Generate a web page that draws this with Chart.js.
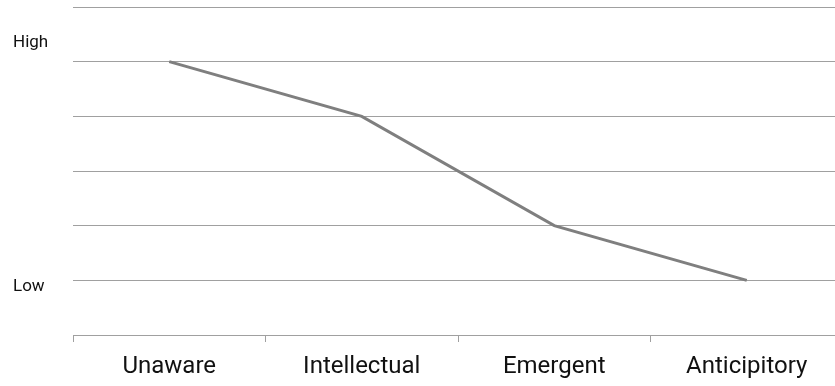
<!DOCTYPE html>
<html>
<head>
<meta charset="utf-8">
<script src="https://cdn.jsdelivr.net/npm/chart.js@4/dist/chart.umd.min.js"></script>
<style>
  html, body { margin: 0; padding: 0; background: #fff; overflow: hidden; }
</style>
</head>
<body>
<canvas id="awareChart" width="850" height="386"></canvas>
<script>
// categorias e valores
const stages = ['Unaware', 'Intellectual', 'Emergent', 'Anticipitory'];
const levels = [5, 4, 2, 1];
// rótulos do eixo Y (posições aproximadas na escala 0-6)
const yLabelValues = [0.88, 5.35];
const yLabelTexts = ['Low', 'High'];

const gridColor = '#a0a0a0';

var ctx = document.getElementById('awareChart').getContext('2d');
var mainChart = new Chart(ctx, {
    type: 'line',
    data: {
        labels: stages,
        datasets: [{
            data: levels,
            borderColor: '#7f7f7f',
            borderWidth: 3,
            pointRadius: 0,
            tension: 0,
            fill: false
        }]
    },
    options: {
        responsive: false,
        animation: false,
        layout: { padding: { top: 7, right: 7, left: 13, bottom: 0 } },
        plugins: { legend: { display: false }, tooltip: { enabled: false } },
        scales: {
            x: {
                offset: true,
                grid: { display: true, drawOnChartArea: false, tickLength: 7, color: gridColor, offset: true },
                border: { color: gridColor, width: 1 },
                ticks: { color: '#111', padding: 11, font: { family: 'Roboto', size: 24 } },
                afterFit: function (scale) { scale.height = 51; }
            },
            yLab: {
                position: 'left',
                min: 0,
                max: 6,
                grid: { display: false },
                border: { display: false },
                afterBuildTicks: function (scale) {
                    scale.ticks = yLabelValues.map(v => ({ value: v }));
                },
                ticks: {
                    color: '#111',
                    crossAlign: 'far',
                    padding: 0,
                    font: { family: 'Roboto', size: 17 },
                    callback: function (value, index) { return yLabelTexts[index]; }
                },
                afterFit: function (scale) {
                    scale.width = 60;
                    scale.paddingTop = 0;
                    scale.paddingBottom = 0;
                }
            },
            y: {
                position: 'left',
                min: 0,
                max: 6,
                ticks: { display: false, stepSize: 1 },
                grid: { color: gridColor, drawTicks: false, tickLength: 0 },
                border: { display: false },
                afterFit: function (scale) { scale.width = 0; }
            }
        }
    }
});
</script>
</body>
</html>
